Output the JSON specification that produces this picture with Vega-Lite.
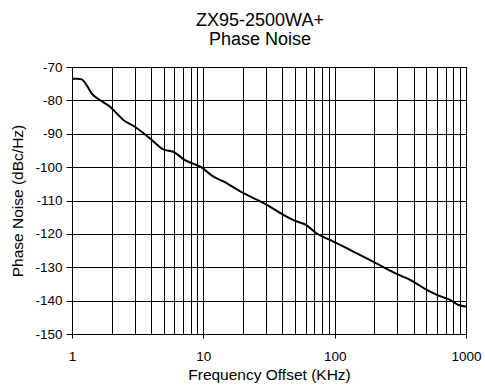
{
  "$schema": "https://vega.github.io/schema/vega-lite/v6.json",
  "width": 394,
  "height": 267,
  "autosize": {"type": "none"},
  "padding": {"left": 72, "top": 67, "right": 19, "bottom": 51},
  "background": "white",
  "config": {
    "font": "Liberation Sans",
    "view": {"stroke": "black", "strokeWidth": 1},
    "axis": {
      "domainColor": "black",
      "tickColor": "black",
      "gridColor": "black",
      "gridOpacity": 1,
      "gridWidth": 1,
      "labelColor": "black",
      "titleColor": "black",
      "labelFont": "Liberation Sans",
      "titleFont": "Liberation Sans",
      "labelFontSize": 13.5,
      "titleFontSize": 15.5,
      "titleFontWeight": "normal"
    }
  },
  "title": {
    "text": ["ZX95-2500WA+", "Phase Noise"],
    "fontSize": 18,
    "fontWeight": "normal",
    "font": "Liberation Sans",
    "color": "black",
    "anchor": "middle",
    "dx": -9,
    "offset": 11,
    "lineHeight": 19
  },
  "data": {
    "values": [
      {"f": 1, "pn": -73.5},
      {"f": 1.1, "pn": -73.5},
      {"f": 1.185, "pn": -73.7},
      {"f": 1.29, "pn": -75.4},
      {"f": 1.41, "pn": -77.9},
      {"f": 1.63, "pn": -79.9},
      {"f": 1.95, "pn": -81.9},
      {"f": 2.19, "pn": -83.9},
      {"f": 2.46, "pn": -85.9},
      {"f": 2.93, "pn": -87.6},
      {"f": 3.93, "pn": -91.4},
      {"f": 4.97, "pn": -94.7},
      {"f": 5.9, "pn": -95.4},
      {"f": 7.25, "pn": -97.9},
      {"f": 9.7, "pn": -100.1},
      {"f": 11.9, "pn": -102.8},
      {"f": 14.2, "pn": -104.3},
      {"f": 20.2, "pn": -107.8},
      {"f": 30.5, "pn": -111.3},
      {"f": 40.7, "pn": -114.3},
      {"f": 51.5, "pn": -116.3},
      {"f": 60.4, "pn": -117.3},
      {"f": 72.7, "pn": -119.8},
      {"f": 97.9, "pn": -122.3},
      {"f": 138.6, "pn": -125.3},
      {"f": 196, "pn": -128.3},
      {"f": 297, "pn": -132.0},
      {"f": 397, "pn": -134.3},
      {"f": 503, "pn": -136.8},
      {"f": 601, "pn": -138.3},
      {"f": 756, "pn": -139.8},
      {"f": 878, "pn": -141.3},
      {"f": 1000, "pn": -141.8}
    ]
  },
  "mark": {"type": "line", "color": "black", "strokeWidth": 2, "interpolate": "monotone", "clip": true},
  "encoding": {
    "x": {
      "field": "f",
      "type": "quantitative",
      "scale": {"type": "log", "domain": [1, 1000], "nice": false},
      "axis": {
        "title": "Frequency Offset (KHz)",
        "values": [1,2,3,4,5,6,7,8,9,10,20,30,40,50,60,70,80,90,100,200,300,400,500,600,700,800,900,1000],
        "labelExpr": "(datum.value == 1 || datum.value == 10 || datum.value == 100 || datum.value == 1000) ? ('' + datum.value) : ''",
        "tickOpacity": {"condition": {"test": "datum.value == 1 || datum.value == 10 || datum.value == 100 || datum.value == 1000", "value": 1}, "value": 0},
        "tickSize": 4,
        "labelPadding": 11,
        "labelFlush": false,
        "labelOverlap": false,
        "titlePadding": 5
      }
    },
    "y": {
      "field": "pn",
      "type": "quantitative",
      "scale": {"domain": [-150, -70], "nice": false, "zero": false},
      "axis": {
        "title": "Phase Noise (dBc/Hz)",
        "values": [-150,-140,-130,-120,-110,-100,-90,-80,-70],
        "labelExpr": "'' + datum.value",
        "tickSize": 6,
        "labelPadding": 4,
        "titlePadding": 9
      }
    }
  }
}
